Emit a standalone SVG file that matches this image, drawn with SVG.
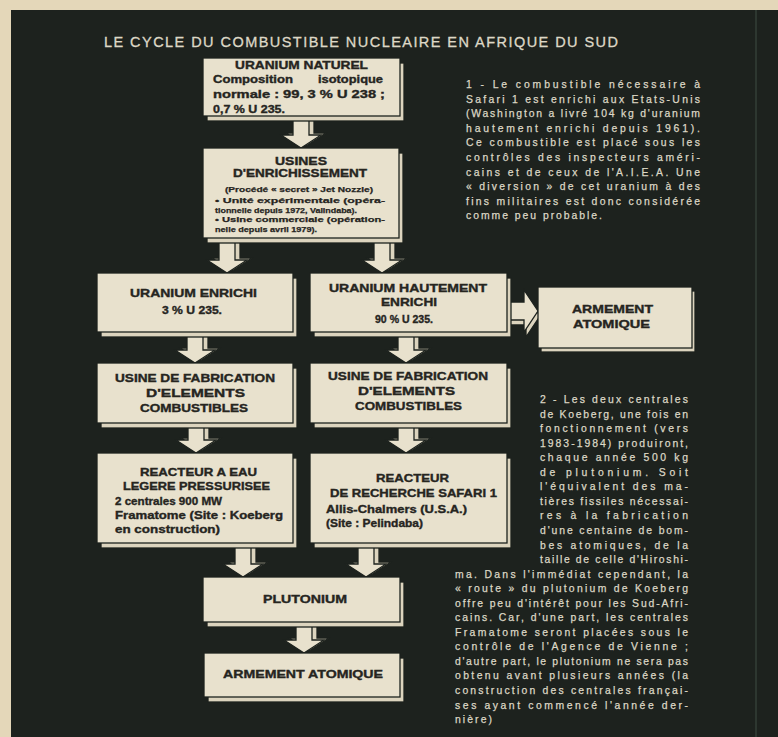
<svg xmlns="http://www.w3.org/2000/svg" xmlns:xlink="http://www.w3.org/1999/xlink" width="778" height="737" viewBox="0 0 778 737">
<style>
.pane{fill:#1d221e}
.ext{fill:#dcd4be;stroke:#1d221e;stroke-width:1.3}
.face{fill:#e8e1cd;stroke:#1d221e;stroke-width:1.3}
.h{font-family:"Liberation Sans",Arial,sans-serif;font-weight:bold;font-size:10.5px;fill:#26251f;stroke:#26251f;stroke-width:0.35}
.s{font-family:"Liberation Sans",Arial,sans-serif;font-weight:bold;font-size:7.2px;fill:#26251f;stroke:#26251f;stroke-width:0.25}
.b{font-family:"Liberation Sans",Arial,sans-serif;font-size:10.4px;fill:#dcd7c5;stroke:#dcd7c5;stroke-width:0.25}
.title{font-family:"Liberation Sans",Arial,sans-serif;font-size:14.5px;fill:#ddd8c6;stroke:#ddd8c6;stroke-width:0.3}
</style>
<defs>
<path id="ad" d="M-8,-40 H8 V-13 H20 L0,0 L-20,-13 H-8 Z"/>
<path id="ar" d="M-40,-9 H-14 V-21 L0,0 L-14,21 V9 H-40 Z"/>
</defs>
<rect x="0" y="0" width="778" height="737" fill="#e4d7b9"/>
<rect class="pane" x="11" y="10" width="767" height="727"/>
<line x1="756" y1="10" x2="756" y2="737" stroke="#3e4c42" stroke-width="1"/>
<text class="title" x="104" y="47" textLength="514" lengthAdjust="spacing">LE CYCLE DU COMBUSTIBLE NUCLEAIRE EN AFRIQUE DU SUD</text>

<g id="connectors">
<use href="#ad" class="ext" transform="translate(306,146)"/><use href="#ad" class="face" transform="translate(301,148)"/>
<use href="#ad" class="ext" transform="translate(232,271)"/><use href="#ad" class="face" transform="translate(227,273)"/>
<use href="#ad" class="ext" transform="translate(387,271)"/><use href="#ad" class="face" transform="translate(382,273)"/>
<use href="#ad" class="ext" transform="translate(200,361)"/><use href="#ad" class="face" transform="translate(195,363)"/>
<use href="#ad" class="ext" transform="translate(411,361)"/><use href="#ad" class="face" transform="translate(406,363)"/>
<use href="#ad" class="ext" transform="translate(201,451)"/><use href="#ad" class="face" transform="translate(196,453)"/>
<use href="#ad" class="ext" transform="translate(411,451)"/><use href="#ad" class="face" transform="translate(406,453)"/>
<use href="#ad" class="ext" transform="translate(248,575)"/><use href="#ad" class="face" transform="translate(243,577)"/>
<use href="#ad" class="ext" transform="translate(371,575)"/><use href="#ad" class="face" transform="translate(366,577)"/>
<use href="#ad" class="ext" transform="translate(309,651)"/><use href="#ad" class="face" transform="translate(304,653)"/>
<use href="#ar" class="ext" transform="translate(540,316)"/><use href="#ar" class="face" transform="translate(538,311)"/>
</g>

<g id="uranium-naturel">
<rect class="ext" x="207" y="63" width="197" height="58"/><rect class="face" x="203" y="58" width="197" height="58"/>
<text class="h" x="235" y="69" textLength="133" lengthAdjust="spacingAndGlyphs">URANIUM NATUREL</text>
<text class="h" x="213" y="83" textLength="80" lengthAdjust="spacingAndGlyphs">Composition</text>
<text class="h" x="318" y="83" textLength="65" lengthAdjust="spacingAndGlyphs">isotopique</text>
<text class="h" x="213" y="98" textLength="172" lengthAdjust="spacingAndGlyphs">normale : 99, 3 % U 238 ;</text>
<text class="h" x="213" y="113" textLength="72" lengthAdjust="spacingAndGlyphs">0,7 % U 235.</text>
</g>

<g id="usines-enrichissement">
<rect class="ext" x="207" y="153" width="196" height="90"/><rect class="face" x="203" y="148" width="196" height="90"/>
<text class="h" x="275" y="165" textLength="52" lengthAdjust="spacingAndGlyphs">USINES</text>
<text class="h" x="233" y="177" textLength="134" lengthAdjust="spacingAndGlyphs">D'ENRICHISSEMENT</text>
<text class="s" x="225" y="192" textLength="148" lengthAdjust="spacingAndGlyphs">(Procédé « secret » Jet Nozzle)</text>
<text class="s" x="215" y="203" textLength="170" lengthAdjust="spacingAndGlyphs">• Unité expérimentale (opéra-</text>
<text class="s" x="215" y="213" textLength="142" lengthAdjust="spacingAndGlyphs">tionnelle depuis 1972, Valindaba).</text>
<text class="s" x="215" y="222" textLength="170" lengthAdjust="spacingAndGlyphs">• Usine commerciale (opération-</text>
<text class="s" x="215" y="232" textLength="102" lengthAdjust="spacingAndGlyphs">nelle depuis avril 1979).</text>
</g>

<g id="uranium-enrichi">
<rect class="ext" x="101" y="278" width="196" height="59"/><rect class="face" x="97" y="273" width="196" height="59"/>
<text class="h" x="130" y="297" textLength="127" lengthAdjust="spacingAndGlyphs">URANIUM ENRICHI</text>
<text class="h" x="162" y="314" textLength="60" lengthAdjust="spacingAndGlyphs">3 % U 235.</text>
</g>

<g id="uranium-hautement-enrichi">
<rect class="ext" x="314" y="278" width="197" height="59"/><rect class="face" x="310" y="273" width="197" height="59"/>
<text class="h" x="329" y="292" textLength="158" lengthAdjust="spacingAndGlyphs">URANIUM HAUTEMENT</text>
<text class="h" x="381" y="306" textLength="56" lengthAdjust="spacingAndGlyphs">ENRICHI</text>
<text class="h" x="375" y="323" textLength="58" lengthAdjust="spacingAndGlyphs">90 % U 235.</text>
</g>

<g id="armement-atomique-1">
<rect class="ext" x="541" y="291" width="154" height="61"/><rect class="face" x="538" y="287" width="154" height="61"/>
<text class="h" x="572" y="313" textLength="81" lengthAdjust="spacingAndGlyphs">ARMEMENT</text>
<text class="h" x="573" y="328" textLength="77" lengthAdjust="spacingAndGlyphs">ATOMIQUE</text>
</g>

<g id="usine-fabrication-1">
<rect class="ext" x="101" y="368" width="196" height="60"/><rect class="face" x="97" y="363" width="196" height="60"/>
<text class="h" x="115" y="382" textLength="160" lengthAdjust="spacingAndGlyphs">USINE DE FABRICATION</text>
<text class="h" x="146" y="397" textLength="99" lengthAdjust="spacingAndGlyphs">D'ELEMENTS</text>
<text class="h" x="140" y="412" textLength="108" lengthAdjust="spacingAndGlyphs">COMBUSTIBLES</text>
</g>

<g id="usine-fabrication-2">
<rect class="ext" x="314" y="368" width="197" height="60"/><rect class="face" x="310" y="363" width="197" height="60"/>
<text class="h" x="328" y="380" textLength="160" lengthAdjust="spacingAndGlyphs">USINE DE FABRICATION</text>
<text class="h" x="358" y="395" textLength="97" lengthAdjust="spacingAndGlyphs">D'ELEMENTS</text>
<text class="h" x="355" y="410" textLength="107" lengthAdjust="spacingAndGlyphs">COMBUSTIBLES</text>
</g>

<g id="reacteur-eau-legere">
<rect class="ext" x="101" y="458" width="196" height="90"/><rect class="face" x="97" y="453" width="196" height="90"/>
<text class="h" x="140" y="476" textLength="117" lengthAdjust="spacingAndGlyphs">REACTEUR A EAU</text>
<text class="h" x="123" y="490" textLength="147" lengthAdjust="spacingAndGlyphs">LEGERE PRESSURISEE</text>
<text class="h" x="115" y="505" textLength="107" lengthAdjust="spacingAndGlyphs">2 centrales 900 MW</text>
<text class="h" x="115" y="519" textLength="168" lengthAdjust="spacingAndGlyphs">Framatome  (Site : Koeberg</text>
<text class="h" x="115" y="533" textLength="105" lengthAdjust="spacingAndGlyphs">en construction)</text>
</g>

<g id="reacteur-safari">
<rect class="ext" x="314" y="458" width="197" height="90"/><rect class="face" x="310" y="453" width="197" height="90"/>
<text class="h" x="376" y="482" textLength="73" lengthAdjust="spacingAndGlyphs">REACTEUR</text>
<text class="h" x="330" y="497" textLength="167" lengthAdjust="spacingAndGlyphs">DE RECHERCHE SAFARI 1</text>
<text class="h" x="326" y="513" textLength="141" lengthAdjust="spacingAndGlyphs">Allis-Chalmers (U.S.A.)</text>
<text class="h" x="326" y="527" textLength="97" lengthAdjust="spacingAndGlyphs">(Site : Pelindaba)</text>
</g>

<g id="plutonium">
<rect class="ext" x="207" y="582" width="197" height="45"/><rect class="face" x="203" y="577" width="197" height="45"/>
<text class="h" x="263" y="603" textLength="84" lengthAdjust="spacingAndGlyphs">PLUTONIUM</text>
</g>

<g id="armement-atomique-2">
<rect class="ext" x="208" y="658" width="196" height="44"/><rect class="face" x="204" y="653" width="196" height="44"/>
<text class="h" x="223" y="678" textLength="160" lengthAdjust="spacingAndGlyphs">ARMEMENT ATOMIQUE</text>
</g>

<g id="note-1">
<text class="b" x="466" y="88" textLength="234" lengthAdjust="spacing">1 - Le combustible nécessaire à</text>
<text class="b" x="466" y="102.6" textLength="234" lengthAdjust="spacing">Safari 1 est enrichi aux Etats-Unis</text>
<text class="b" x="466" y="117.2" textLength="234" lengthAdjust="spacing">(Washington a livré 104 kg d'uranium</text>
<text class="b" x="466" y="131.8" textLength="234" lengthAdjust="spacing">hautement enrichi depuis 1961).</text>
<text class="b" x="466" y="146.4" textLength="234" lengthAdjust="spacing">Ce combustible est placé sous les</text>
<text class="b" x="466" y="161" textLength="234" lengthAdjust="spacing">contrôles des inspecteurs améri-</text>
<text class="b" x="466" y="175.6" textLength="234" lengthAdjust="spacing">cains et de ceux de l'A.I.E.A. Une</text>
<text class="b" x="466" y="190.2" textLength="234" lengthAdjust="spacing">« diversion » de cet uranium à des</text>
<text class="b" x="466" y="204.8" textLength="234" lengthAdjust="spacing">fins militaires est donc considérée</text>
<text class="b" x="466" y="219.4" textLength="136" lengthAdjust="spacing">comme peu probable.</text>
</g>

<g id="note-2">
<text class="b" x="540" y="403" textLength="148" lengthAdjust="spacing">2 - Les deux centrales</text>
<text class="b" x="540" y="417.55" textLength="148" lengthAdjust="spacing">de Koeberg, une fois en</text>
<text class="b" x="540" y="432.1" textLength="148" lengthAdjust="spacing">fonctionnement (vers</text>
<text class="b" x="540" y="446.65" textLength="148" lengthAdjust="spacing">1983-1984) produiront,</text>
<text class="b" x="540" y="461.2" textLength="148" lengthAdjust="spacing">chaque année 500 kg</text>
<text class="b" x="540" y="475.75" textLength="148" lengthAdjust="spacing">de plutonium. Soit</text>
<text class="b" x="540" y="490.3" textLength="148" lengthAdjust="spacing">l'équivalent des ma-</text>
<text class="b" x="540" y="504.85" textLength="148" lengthAdjust="spacing">tières fissiles nécessai-</text>
<text class="b" x="540" y="519.4" textLength="148" lengthAdjust="spacing">res à la fabrication</text>
<text class="b" x="540" y="533.95" textLength="148" lengthAdjust="spacing">d'une centaine de bom-</text>
<text class="b" x="540" y="548.5" textLength="148" lengthAdjust="spacing">bes atomiques, de la</text>
<text class="b" x="540" y="563.05" textLength="148" lengthAdjust="spacing">taille de celle d'Hiroshi-</text>
<text class="b" x="455" y="577.6" textLength="233" lengthAdjust="spacing">ma. Dans l'immédiat cependant, la</text>
<text class="b" x="455" y="592.15" textLength="233" lengthAdjust="spacing">« route » du plutonium de Koeberg</text>
<text class="b" x="455" y="606.7" textLength="233" lengthAdjust="spacing">offre peu d'intérêt pour les Sud-Afri-</text>
<text class="b" x="455" y="621.25" textLength="233" lengthAdjust="spacing">cains. Car, d'une part, les centrales</text>
<text class="b" x="455" y="635.8" textLength="233" lengthAdjust="spacing">Framatome seront placées sous le</text>
<text class="b" x="455" y="650.35" textLength="233" lengthAdjust="spacing">contrôle de l'Agence de Vienne ;</text>
<text class="b" x="455" y="664.9" textLength="233" lengthAdjust="spacing">d'autre part, le plutonium ne sera pas</text>
<text class="b" x="455" y="679.45" textLength="233" lengthAdjust="spacing">obtenu avant plusieurs années (la</text>
<text class="b" x="455" y="694" textLength="233" lengthAdjust="spacing">construction des centrales françai-</text>
<text class="b" x="455" y="708.55" textLength="233" lengthAdjust="spacing">ses ayant commencé l'année der-</text>
<text class="b" x="455" y="723.1" textLength="37" lengthAdjust="spacing">nière)</text>
</g>
</svg>
